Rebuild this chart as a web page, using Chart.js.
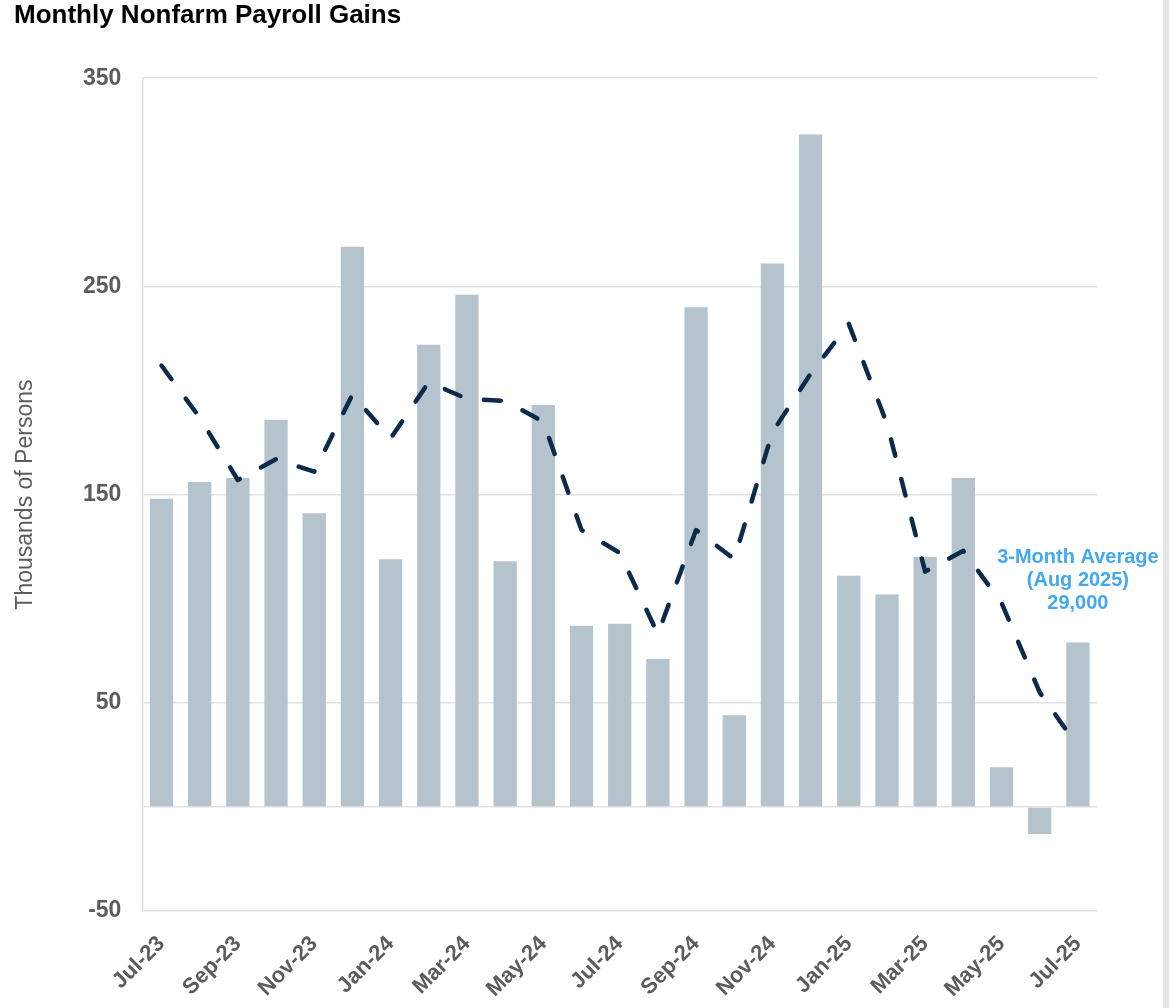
<!DOCTYPE html>
<html>
<head>
<meta charset="utf-8">
<title>Monthly Nonfarm Payroll Gains</title>
<script src="https://cdn.jsdelivr.net/npm/chart.js@4.4.1/dist/chart.umd.min.js"></script>
<style>
    html, body { margin: 0; padding: 0; background: #e6e6e6; }
    #wrap { position: relative; width: 1163px; height: 1008px; background: #ffffff; }
</style>
</head>
<body>
<div id="wrap"><canvas id="payrollChart"></canvas></div>
<script>
// Monthly payroll gains (thousands) and 3-month moving average
const months = ['Jul-23', 'Aug-23', 'Sep-23', 'Oct-23', 'Nov-23', 'Dec-23',
    'Jan-24', 'Feb-24', 'Mar-24', 'Apr-24', 'May-24', 'Jun-24',
    'Jul-24', 'Aug-24', 'Sep-24', 'Oct-24', 'Nov-24', 'Dec-24',
    'Jan-25', 'Feb-25', 'Mar-25', 'Apr-25', 'May-25', 'Jun-25', 'Jul-25'];

const monthlyGains = [148, 156, 158, 186, 141, 269,
    119, 222, 246, 118, 193, 87,
    88, 71, 240, 44, 261, 323,
    111, 102, 120, 158, 19, -13, 79];

const threeMonthAvg = [212, 187, 157, 167, 161, 198,
    177, 204, 196, 195, 185, 133,
    122, 83, 133, 119, 180, 208,
    232, 184, 113, 123, 98, 55, 29];

const yTicks = [-50, 0, 50, 150, 250, 350];

const noteLines = ['3-Month Average', '(Aug 2025)', '29,000'];

const fontFamily = '"Liberation Sans", Arial, sans-serif';
const tickGray = '#5c5c5c';
const gridGray = '#e2e2e2';

// draws the blue note beside the last months
const notePlugin = {
    id: 'avgNote',
    afterDatasetsDraw(chart) {
        const ctx = chart.ctx;
        const x = chart.scales.x.getPixelForValue(months.length - 1);
        const y = chart.scales.y.getPixelForValue(120);
        ctx.save();
        ctx.fillStyle = '#42a8f0';
        ctx.font = 'bold 20px ' + fontFamily;
        ctx.textAlign = 'center';
        ctx.textBaseline = 'middle';
        noteLines.forEach((line, i) => {
            ctx.fillText(line, x, y + i * 23);
        });
        ctx.restore();
    }
};

const ctx = document.getElementById('payrollChart').getContext('2d');

const payrollChart = new Chart(ctx, {
    data: {
        labels: months,
        datasets: [{
            type: 'line',
            label: '3-Month Average',
            data: threeMonthAvg,
            borderColor: '#0c2a4b',
            borderWidth: 4.5,
            borderDash: [17, 24],
            borderCapStyle: 'round',
            borderJoinStyle: 'round',
            tension: 0,
            pointRadius: 0,
            fill: false,
            order: 0
        }, {
            type: 'bar',
            label: 'Monthly Gains',
            data: monthlyGains,
            backgroundColor: '#b5c3cd',
            categoryPercentage: 1.0,
            barPercentage: 0.61,
            order: 1
        }]
    },
    options: {
        responsive: true,
        maintainAspectRatio: false,
        animation: false,
        layout: {
            padding: { left: 14, right: 66, top: 0, bottom: 0 }
        },
        plugins: {
            legend: { display: false },
            tooltip: { enabled: false },
            title: {
                display: true,
                text: 'Monthly Nonfarm Payroll Gains',
                align: 'start',
                color: '#000000',
                font: { family: fontFamily, size: 26, weight: 'bold' },
                padding: { top: 0, bottom: 47 }
            }
        },
        scales: {
            x: {
                grid: { display: false, drawTicks: false },
                border: { display: false },
                afterFit: axis => { axis.height = 97; },
                ticks: {
                    autoSkip: false,
                    maxRotation: 45,
                    minRotation: 45,
                    padding: 20,
                    color: tickGray,
                    font: { family: fontFamily, size: 22, weight: 'bold' },
                    callback: function (value, index) {
                        return index % 2 === 0 ? months[index] : '';
                    }
                }
            },
            y: {
                min: -50,
                max: 350,
                afterBuildTicks: axis => {
                    axis.ticks = yTicks.map(v => ({ value: v }));
                },
                grid: { color: gridGray, lineWidth: 1.5, drawTicks: false },
                border: { display: true, color: gridGray, width: 1.5 },
                ticks: {
                    padding: 21,
                    color: tickGray,
                    font: { family: fontFamily, size: 23, weight: 'bold' },
                    callback: value => (value === 0 ? '' : value)
                },
                title: {
                    display: true,
                    text: 'Thousands of Persons',
                    color: '#5c5c5c',
                    font: { family: fontFamily, size: 23, lineHeight: 1 },
                    padding: { top: 0, bottom: 25 }
                }
            }
        }
    },
    plugins: [notePlugin]
});
</script>
</body>
</html>
